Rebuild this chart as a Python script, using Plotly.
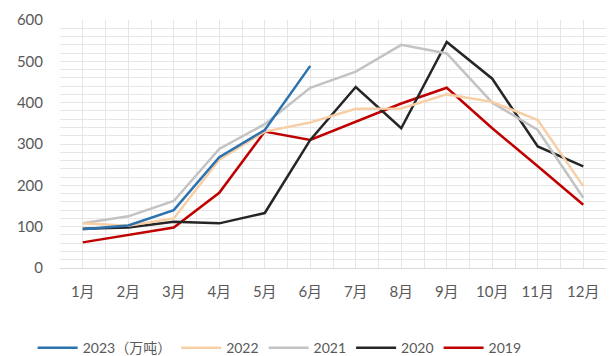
import plotly.graph_objects as go

months = ["1月", "2月", "3月", "4月", "5月", "6月", "7月", "8月", "9月", "10月", "11月", "12月"]
y2023 = [94, 103, 140, 268, 334, 489]
y2022 = [108, 102, 120, 262, 330, 352, 385, 386, 420, 402, 358, 198]
y2021 = [108, 125, 162, 288, 348, 436, 475, 540, 519, 400, 334, 170]
y2020 = [95, 98, 112, 108, 133, 310, 438, 338, 547, 458, 294, 246]
y2019 = [62, 80, 98, 182, 330, 310, 354, 398, 436, 338, 246, 153]

series = [
    ("2019", y2019, "#C00000"),
    ("2020", y2020, "#262626"),
    ("2021", y2021, "#C3C3C3"),
    ("2022", y2022, "#F7CFA6"),
    ("2023（万吨）", y2023, "#2C72AE"),
]

xs = list(range(len(months)))
fig = go.Figure()
for name, vals, color in series:
    fig.add_trace(go.Scatter(
        x=xs[:len(vals)], y=vals, name=name, mode="lines",
        line=dict(color=color, width=2.5),
    ))

font_family = "Lato, 'Noto Sans CJK SC', sans-serif"
grid = "#E6E6E6"
fig.update_layout(
    width=616, height=356,
    margin=dict(l=60, r=10, t=18, b=88),
    paper_bgcolor="white", plot_bgcolor="white",
    font=dict(family=font_family, color="#595959", size=14),
    showlegend=True,
    legend=dict(
        orientation="h", traceorder="reversed",
        xref="container", yref="container",
        x=0.053, y=0.022, xanchor="left", yanchor="middle",
        font=dict(size=14, color="#595959"),
        itemwidth=40,
    ),
    xaxis=dict(
        range=[-0.5, len(months) - 0.5],
        tickmode="array", tickvals=xs, ticktext=months,
        showgrid=True, gridcolor=grid, gridwidth=1,
        minor=dict(dtick=0.5, tick0=-0.5, showgrid=True, gridcolor=grid, gridwidth=1),
        showline=True, linecolor="#D9D9D9", linewidth=1,
        zeroline=False, ticks="",
        tickfont=dict(size=15, color="#595959"),
        ticklabelstandoff=10,
    ),
    yaxis=dict(
        range=[0, 600], dtick=100,
        showgrid=True, gridcolor=grid, gridwidth=1,
        minor=dict(dtick=20, showgrid=True, gridcolor=grid, gridwidth=1),
        zeroline=False, showline=False, ticks="",
        tickfont=dict(size=15, color="#595959"),
        ticklabelstandoff=16,
    ),
)

fig.write_html("out.html")
